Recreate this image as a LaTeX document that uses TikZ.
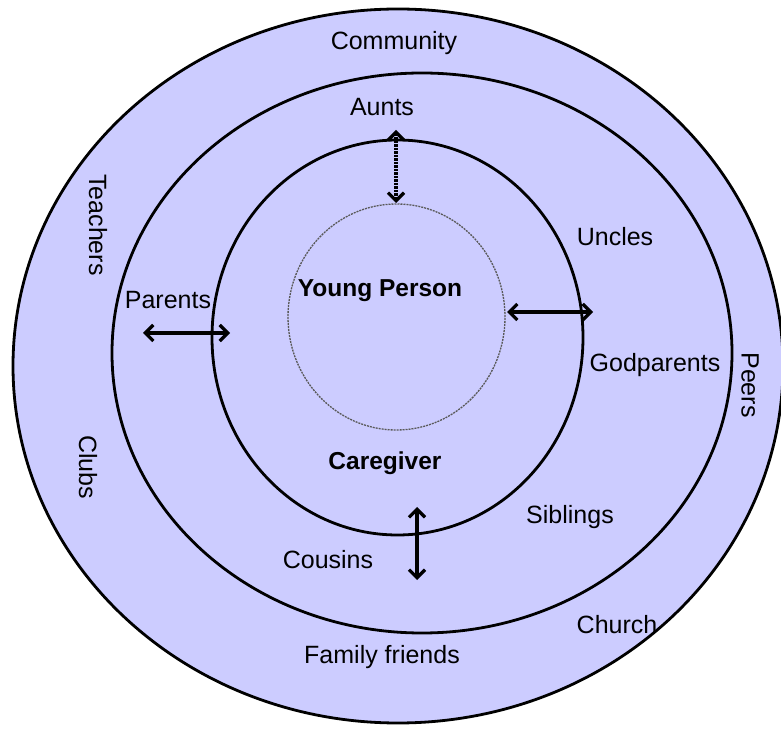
\documentclass[tikz,border=0pt]{standalone}
\usepackage{fontspec}
\setmainfont{Liberation Sans}
\usetikzlibrary{arrows.meta}
\definecolor{lav}{RGB}{204,204,255}
\begin{document}
\begin{tikzpicture}[x=1pt,y=1pt,
 ring/.style={draw=black,line width=2.8pt,fill=lav},
 lbl/.style={font=\fontsize{25}{28}\selectfont,inner sep=0pt},
 blbl/.style={inner sep=0pt,font=\fontsize{24.5}{28}\selectfont\bfseries},
 dbl/.style={line width=3.2pt,{Straight Barb[length=8pt,width=16pt]}-{Straight Barb[length=8pt,width=16pt]}}
]
\useasboundingbox (0,0) rectangle (781,731);
\fill[white] (0,0) rectangle (781,731);
\draw[ring] (398,365) ellipse [x radius=385, y radius=357];
\draw[ring] (422,378) ellipse [x radius=310, y radius=280];
\draw[ring] (397.5,393.5) ellipse [x radius=185.5, y radius=197.5];
\draw[gray!70!black, line width=1.3pt, dash pattern=on 2pt off 1pt] (396.5,414) ellipse [x radius=108.5, y radius=113];

\node[lbl] (community) at (394,688) {Community};
\node[lbl] (aunts) at (382,624) {Aunts};
\node[lbl] (uncles) at (615,494) {Uncles};
\node[blbl] (young) at (380,440) {Young Person};
\node[lbl] (parents) at (168,431) {Parents};
\node[lbl] (godparents) at (655,366) {Godparents};
\node[lbl,rotate=-90] (peers) at (750,346) {Peers};
\node[lbl,rotate=-90] (teachers) at (98,506) {Teachers};
\node[lbl,rotate=-90] (clubs) at (88,264) {Clubs};
\node[blbl] (caregiver) at (385,268) {Caregiver};
\node[lbl] (siblings) at (570,214) {Siblings};
\node[lbl] (cousins) at (328,171) {Cousins};
\node[lbl] (church) at (617,106) {Church};
\node[lbl] (friends) at (382,74) {Family friends};

\coordinate (a1) at (396,601);
\coordinate (a2) at (396,528);
\coordinate (r1) at (507,419);
\coordinate (r2) at (593,419);
\coordinate (p1) at (143,398);
\coordinate (p2) at (230,398);
\coordinate (b1) at (417,224);
\coordinate (b2) at (417,151);
\draw[dbl, dash pattern=on 2.5pt off 1pt] (a1) -- (a2);
\draw[dbl] (r1) -- (r2);
\draw[dbl] (p1) -- (p2);
\draw[dbl] (b1) -- (b2);
\end{tikzpicture}
\end{document}
